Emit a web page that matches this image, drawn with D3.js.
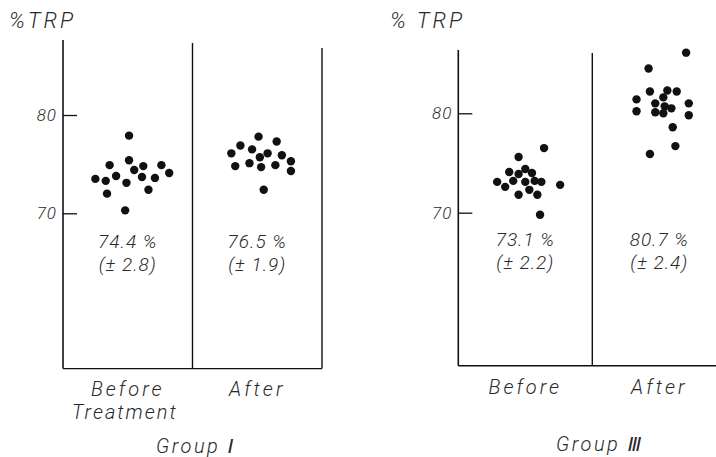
<!DOCTYPE html>
<html>
<head>
<meta charset="utf-8">
<script src="https://cdn.jsdelivr.net/npm/d3@7/dist/d3.min.js"></script>
<style>
  body { margin: 0; background: #fff; }
  text { font-family: Roboto, "DejaVu Sans", sans-serif; font-style: italic; font-weight: 300; fill: #2a2a2a; }
</style>
</head>
<body>
<svg id="svg" width="716" height="457"></svg>
<script>
// categories
const columns = ["Before", "After"];
const yTicks = [70, 80];

// Group I  -> [jitter (fraction of column width), %TRP]
const g1Before = [[-0.25, 73.5], [-0.17, 73.3], [-0.16, 72.0], [-0.14, 74.9], [-0.09, 73.8], [-0.01, 73.1],
  [-0.02, 70.3], [0.01, 77.9], [0.01, 75.4], [0.05, 74.4], [0.11, 73.7], [0.12, 74.8], [0.16, 72.4],
  [0.21, 73.6], [0.26, 74.9], [0.32, 74.1]];
const g1After = [[-0.2, 76.1], [-0.17, 74.8], [-0.13, 76.9], [-0.06, 75.1], [-0.04, 76.5], [0.01, 77.8],
  [0.02, 75.7], [0.03, 74.7], [0.05, 72.4], [0.08, 76.1], [0.14, 74.9], [0.15, 77.3], [0.19, 75.9],
  [0.26, 75.3], [0.26, 74.3]];

// Group III
const g3Before = [[-0.21, 73.1], [-0.15, 72.6], [-0.12, 74.1], [-0.09, 73.2], [-0.05, 75.6], [-0.05, 73.9],
  [-0.05, 71.8], [0.0, 74.4], [0.0, 73.1], [0.03, 72.3], [0.05, 74.0], [0.07, 73.2], [0.09, 71.8],
  [0.12, 73.1], [0.14, 76.5], [0.11, 69.8], [0.26, 72.8]];
const g3After = [[-0.17, 81.4], [-0.17, 80.2], [-0.08, 84.5], [-0.07, 82.2], [-0.07, 75.9], [-0.03, 81.0],
  [-0.03, 80.1], [0.03, 81.6], [0.04, 80.7], [0.03, 80.0], [0.06, 82.3], [0.09, 80.5], [0.1, 78.6],
  [0.12, 76.7], [0.13, 82.2], [0.2, 86.1], [0.22, 81.0], [0.22, 79.8]];

// mean and SD labels
const g1Means = ["74.4 %", "76.5 %"];
const g1Sd = ["(± 2.8)", "(± 1.9)"];
const g3Means = ["73.1 %", "80.7 %"];
const g3Sd = ["(± 2.2)", "(± 2.4)"];

const svg = d3.select("#svg");

function panel(opt) {
  const g = svg.append("g");
  const y = d3.scaleLinear().domain([70, 80]).range(opt.yRange);
  const x = d3.scaleBand().domain(columns).range(opt.xRange).padding(0);
  const bw = x.bandwidth();
  const jit = d3.scaleLinear().domain([-1, 1]).range([-bw, bw]);

  // frame
  const left = opt.xRange[0];
  const bottom = y(opt.yBottom);
  g.append("line").attr("x1", left).attr("x2", left).attr("y1", opt.tops[0]).attr("y2", bottom)
    .attr("stroke", "#111").attr("stroke-width", 1.6);
  g.append("line").attr("x1", x("After")).attr("x2", x("After")).attr("y1", opt.tops[1]).attr("y2", bottom)
    .attr("stroke", "#111").attr("stroke-width", 1.4);
  if (opt.rightBorder) {
    g.append("line").attr("x1", x("After") + bw).attr("x2", x("After") + bw).attr("y1", opt.tops[2]).attr("y2", bottom)
      .attr("stroke", "#111").attr("stroke-width", 1.4);
  }
  g.append("line").attr("x1", left).attr("x2", opt.bottomEnd).attr("y1", bottom).attr("y2", bottom)
    .attr("stroke", "#111").attr("stroke-width", 1.4);

  // y axis ticks
  const ax = g.append("g").attr("transform", `translate(${left},0)`)
    .call(d3.axisLeft(y).tickValues(yTicks).tickSizeInner(-14).tickSizeOuter(0).tickPadding(6));
  ax.select(".domain").remove();
  ax.selectAll(".tick line").attr("stroke", "#111").attr("stroke-width", 1.3);
  ax.selectAll(".tick text").attr("font-size", 17).attr("fill", "#2a2a2a").attr("letter-spacing", 1)
    .style("font-family", "Roboto").style("font-style", "italic").style("font-weight", 300);

  // dots
  opt.series.forEach((pts, i) => {
    g.selectAll(null).data(pts).enter().append("circle")
      .attr("cx", d => x(columns[i]) + bw / 2 + jit(d[0]))
      .attr("cy", d => y(d[1]))
      .attr("r", 4.2)
      .attr("fill", "#111");
  });

  // mean labels
  columns.forEach((c, i) => {
    g.append("text").attr("x", x(c) + bw / 2).attr("y", opt.meanY).attr("text-anchor", "middle")
      .attr("font-size", 19).attr("letter-spacing", 1).text(opt.means[i]);
    g.append("text").attr("x", x(c) + bw / 2).attr("y", opt.meanY + 23).attr("text-anchor", "middle")
      .attr("font-size", 19).attr("letter-spacing", 1).text(opt.sds[i]);
  });

  // category labels
  g.append("text").attr("x", x("Before") + bw / 2).attr("y", opt.catY).attr("text-anchor", "middle")
    .attr("font-size", 20).attr("letter-spacing", 3).text("Before");
  if (opt.treatment) {
    g.append("text").attr("x", x("Before") + bw / 2 - 3).attr("y", opt.catY + 23).attr("text-anchor", "middle")
      .attr("font-size", 20).attr("letter-spacing", 2).text("Treatment");
  }
  g.append("text").attr("x", x("After") + bw / 2).attr("y", opt.catY).attr("text-anchor", "middle")
    .attr("font-size", 20).attr("letter-spacing", 3).text("After");

  // axis title
  g.append("text").attr("x", opt.titleX).attr("y", 28).attr("font-size", 22).attr("letter-spacing", 3).text(opt.title);

  // group label
  g.append("text").attr("x", opt.groupX).attr("y", opt.groupY).attr("text-anchor", "middle")
    .attr("font-size", 20).attr("letter-spacing", 2.5).text(opt.group);
}

panel({
  xRange: [63, 322], yRange: [213.3, 115], yBottom: 54.2, tops: [40, 43, 48], rightBorder: true, bottomEnd: 322,
  series: [g1Before, g1After], means: g1Means, sds: g1Sd, meanY: 248, catY: 396, treatment: true,
  title: "%TRP", titleX: 9, group: "Group Ⅰ", groupX: 196, groupY: 453
});

panel({
  xRange: [458.3, 726.3], yRange: [212.7, 113.3], yBottom: 54.6, tops: [50, 53, 53], rightBorder: false, bottomEnd: 716,
  series: [g3Before, g3After], means: g3Means, sds: g3Sd, meanY: 246, catY: 394, treatment: false,
  title: "% TRP", titleX: 390, group: "Group Ⅲ", groupX: 600, groupY: 451
});
</script>
</body>
</html>
